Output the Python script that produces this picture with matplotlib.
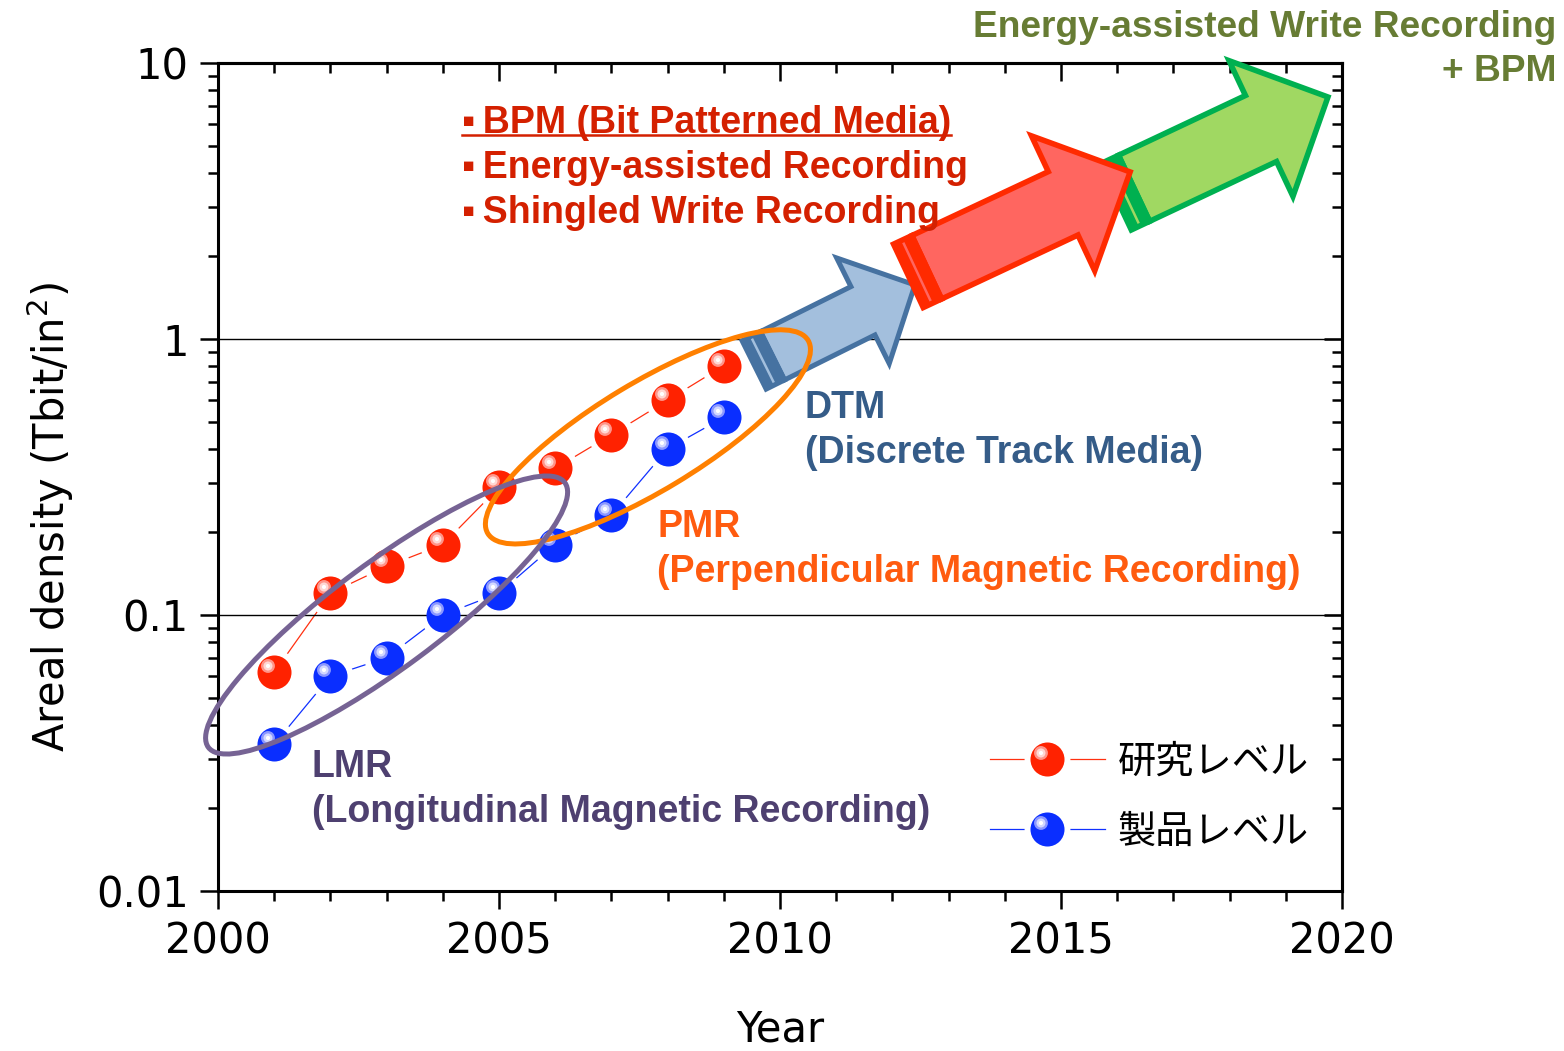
import numpy as np
import matplotlib
matplotlib.use("Agg")
import matplotlib.pyplot as plt
from matplotlib.patches import Ellipse, Polygon
from matplotlib.markers import MarkerStyle
from matplotlib.transforms import Affine2D, ScaledTranslation
from matplotlib.lines import Line2D
from matplotlib.legend_handler import HandlerTuple

# data
years = [2001, 2002, 2003, 2004, 2005, 2006, 2007, 2008, 2009]
research = [0.062, 0.12, 0.15, 0.18, 0.29, 0.34, 0.45, 0.60, 0.80]
product = [0.034, 0.060, 0.070, 0.10, 0.12, 0.18, 0.23, 0.40, 0.52]
x_ticks = [2000, 2005, 2010, 2015, 2020]
x_minor = list(range(2000, 2021))
y_ticks = [0.01, 0.1, 1, 10]
y_tick_labels = ["0.01", "0.1", "1", "10"]
legend_labels = ["研究レベル", "製品レベル"]

W, H = 1564, 1051
fig = plt.figure(figsize=(W / 100, H / 100), dpi=100)
ax = fig.add_axes([218 / W, (H - 891) / H, (1342 - 218) / W, (891 - 63) / H])

plt.rcParams['font.family'] = ['DejaVu Sans']
ann_font = ['Liberation Sans', 'DejaVu Sans']

ax.set_xlim(2000, 2020)
ax.set_yscale('log')
ax.set_ylim(0.01, 10)
ax.set_xticks(x_ticks)
ax.set_xticks(x_minor, minor=True)
ax.set_yticks(y_ticks, y_tick_labels)
ax.tick_params(which='major', direction='out', length=13, width=1.8, labelsize=30, pad=8)
ax.tick_params(which='minor', direction='out', length=7, width=1.8)
for s in ax.spines.values():
    s.set_linewidth(2.2)
ax.yaxis.grid(True, which='major', color='black', linewidth=1.0)
ax.set_axisbelow(False)

top = ax.secondary_xaxis('top')
top.set_xticks(x_ticks)
top.set_xticks(x_minor, minor=True)
top.tick_params(which='both', direction='in', labeltop=False, width=1.8)
top.tick_params(which='major', length=13)
top.tick_params(which='minor', length=7)
top.spines['top'].set_linewidth(2.2)

right = ax.secondary_yaxis('right')
right.set_yticks(y_ticks)
right.tick_params(which='both', direction='in', labelright=False, width=1.8)
right.tick_params(which='major', length=13)
right.tick_params(which='minor', length=7)
right.spines['right'].set_linewidth(2.2)


def spheres(xs, ys, base, ring, core, line_color):
    ln, = ax.plot(xs, ys, '-', color=line_color, lw=0.9, marker='o', ms=33,
                  mfc='white', mec='none', zorder=2)
    layers = [ln]
    layers += ax.plot(xs, ys, ls='none', marker='o', ms=24.5, mfc=base, mec='none', zorder=3)
    for size, col in [(10, ring), (6.5, core), (3, 'white')]:
        off = 4.7 / size
        m = MarkerStyle('o', transform=Affine2D().translate(-off, off))
        layers += ax.plot(xs, ys, ls='none', marker=m, ms=size, mfc=col, mec='none', zorder=3.1)
    return tuple(layers)


red_h = spheres(years, research, '#FF2200', '#FF958A', '#FFD8D4', '#FF3010')
blue_h = spheres(years, product, '#0A2EFF', '#8C98FF', '#D2D8FF', '#1030FF')

ax.legend([red_h, blue_h], legend_labels,
          handler_map={tuple: HandlerTuple(ndivide=1, pad=0)},
          loc='center left', bbox_to_anchor=(990 / W, 1 - 797 / H),
          bbox_transform=fig.transFigure, frameon=False,
          prop={'family': ['Noto Sans CJK JP'], 'size': 27.5},
          handlelength=3.0, handletextpad=0.35, labelspacing=0.82,
          borderpad=0, borderaxespad=0)


def block_arrow(tail, tip, shaft, head, head_len, face, edge, lw, z):
    p0 = ax.transData.transform(tail)
    p1 = ax.transData.transform(tip)
    d = p1 - p0
    L = np.hypot(*d)
    u = d / L
    n = np.array([-u[1], u[0]])
    lw_px = lw * 100 / 72
    band = 23

    def pts(lst):
        arr = np.array([p0 + u * s + n * t for s, t in lst])
        return ax.transData.inverted().transform(arr)

    body = [(band, -shaft / 2), (L - head_len, -shaft / 2), (L - head_len, -head / 2),
            (L, 0), (L - head_len, head / 2), (L - head_len, shaft / 2), (band, shaft / 2)]
    ax.add_patch(Polygon(pts(body), closed=True, fc=face, ec=edge, lw=lw,
                         joinstyle='miter', clip_on=False, zorder=z))
    ow = (shaft + lw_px) / 2
    stripe = [(0, -ow), (band + lw_px / 2, -ow), (band + lw_px / 2, ow), (0, ow)]
    ax.add_patch(Polygon(pts(stripe), closed=True, fc=edge, ec='none', clip_on=False, zorder=z))
    iw = (shaft - lw_px) / 2
    light = [(11, -iw), (13.5, -iw), (13.5, iw), (11, iw)]
    ax.add_patch(Polygon(pts(light), closed=True, fc=face, ec='none', clip_on=False, zorder=z))


block_arrow((2009.50, 0.798), (2012.40, 1.57), 54, 118, 58, '#A3BFDD', '#4672A1', 3.6, 3.5)
block_arrow((2015.93, 3.24), (2019.75, 7.53), 73, 150, 74, '#A0D862', '#00B050', 4.0, 3.6)
block_arrow((2012.24, 1.677), (2016.23, 4.03), 70, 149, 74, '#FF6660', '#FF2A00', 4.0, 3.7)


def ring(cx, cy, w_px, h_px, angle, color, z):
    tr = fig.dpi_scale_trans + ScaledTranslation(cx, cy, ax.transData)
    ax.add_patch(Ellipse((0, 0), w_px / 100, h_px / 100, angle=angle, transform=tr,
                         fill=False, ec=color, lw=3.6, clip_on=False, zorder=z))


ring(2007.65, 0.442, 374, 108, 31.1, '#FF8000', 4.0)
ring(2003.0, 0.1, 444, 106, 36.6, '#766394', 4.1)


def ftext(x, y, s, **kw):
    return fig.text(x / W, 1 - y / H, s, **kw)


bold = dict(family=ann_font, weight='bold', fontsize=27, va='baseline', zorder=6)
red_txt = '#D42000'
t1 = ftext(462, 133, '▪\u2009BPM (Bit Patterned Media)', color=red_txt, **bold)
ftext(462, 178, '▪\u2009Energy-assisted Recording', color=red_txt, **bold)
ftext(462, 223, '▪\u2009Shingled Write Recording', color=red_txt, **bold)

ftext(805, 418, 'DTM', color='#355C88', **bold)
ftext(805, 463, '(Discrete Track Media)', color='#355C88', **bold)
ftext(657, 537, 'PMR', color='#FF5B0F', **bold)
ftext(657, 582, '(Perpendicular Magnetic Recording)', color='#FF5B0F', **bold)
ftext(312, 777, 'LMR', color='#4E4070', **bold)
ftext(312, 822, '(Longitudinal Magnetic Recording)', color='#4E4070', **bold)
ftext(1556, 37, 'Energy-assisted Write Recording', color='#677C34', ha='right',
      **dict(bold, fontsize=26.7))
ftext(1556, 81, '+ BPM', color='#677C34', ha='right', **dict(bold, fontsize=26.7))

fig.canvas.draw()
bb = t1.get_window_extent()
yl = (bb.y0 + 6) / H
fig.add_artist(Line2D([bb.x0 / W, bb.x1 / W], [yl, yl], color=red_txt, lw=1.8,
                      transform=fig.transFigure))

ftext(50, 517, 'Areal density (Tbit/in$^2$)', rotation=90, ha='center', va='center', fontsize=30)
ftext(780, 1030, 'Year', ha='center', va='center', fontsize=30)

fig.savefig('out.png', dpi=100)
